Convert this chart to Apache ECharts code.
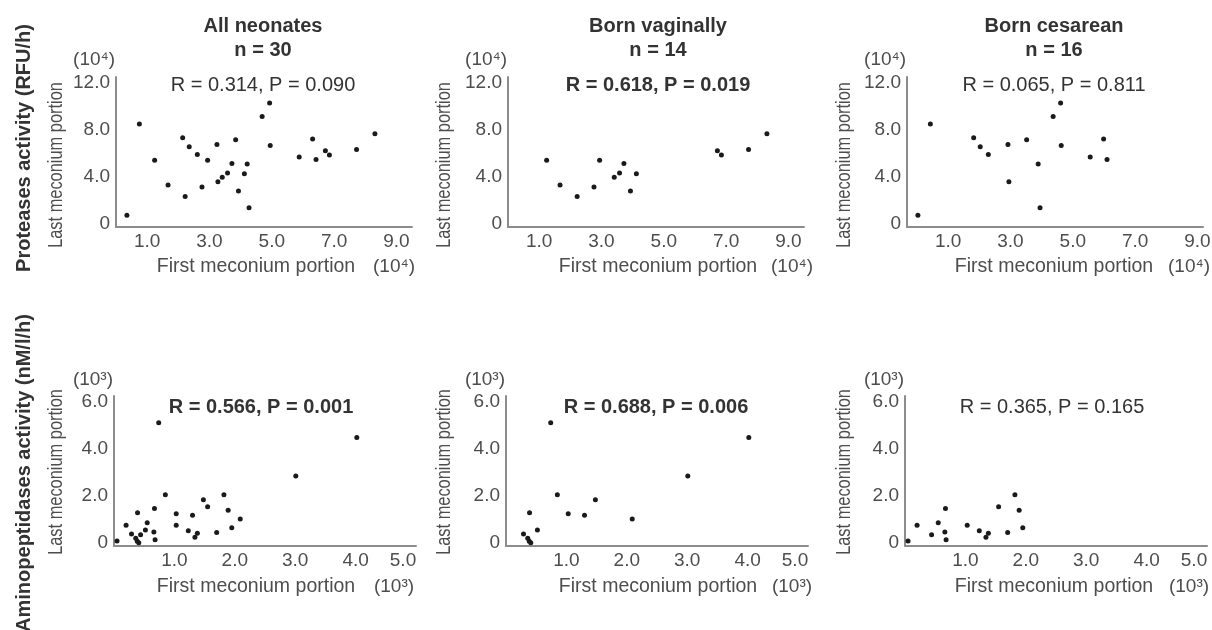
<!DOCTYPE html>
<html>
<head>
<meta charset="utf-8">
<title>Meconium protease and aminopeptidase activity</title>
<script src="https://cdn.jsdelivr.net/npm/echarts@6.0.0/dist/echarts.min.js"></script>
<style>
  html, body { margin: 0; padding: 0; background: #fff; }
  #chart { width: 1212px; height: 630px; }
</style>
</head>
<body>
<div id="chart"></div>
<script>
// proteases activity, first vs last meconium portion (x10^4 RFU/h)
const protVaginal = [
  [1.24, 5.40], [1.67, 3.28], [2.22, 2.31], [2.76, 3.11], [2.94, 5.40],
  [3.41, 3.94], [3.58, 4.31], [3.72, 5.11], [3.93, 2.77], [4.12, 4.25],
  [6.72, 6.20], [6.85, 5.85], [7.72, 6.31], [8.31, 7.65]
]
const protCesarean = [
  [0.35, 0.70], [0.75, 8.50], [2.14, 7.31], [2.35, 6.54], [2.61, 5.88],
  [3.24, 6.74], [3.27, 3.57], [3.84, 7.14], [4.21, 5.08], [4.27, 1.34],
  [4.69, 9.14], [4.93, 10.28], [4.95, 6.65], [5.88, 5.68], [6.31, 7.20],
  [6.42, 5.45]
]
// aminopeptidases activity (x10^3 nM/l/h)
const aminoVaginal = [
  [0.74, 5.11], [0.29, 0.37], [0.36, 0.19], [0.385, 0.06], [0.41, 0.0],
  [0.39, 1.28], [0.52, 0.54], [0.85, 2.04], [1.03, 1.23], [1.30, 1.17],
  [1.48, 1.83], [2.09, 1.01], [3.01, 2.84], [4.02, 4.48]
]
const aminoCesarean = [
  [0.05, 0.07], [0.20, 0.74], [0.44, 0.34], [0.55, 0.85], [0.67, 1.46],
  [0.66, 0.46], [0.68, 0.13], [1.03, 0.74], [1.23, 0.51], [1.34, 0.23],
  [1.38, 0.40], [1.55, 1.53], [1.70, 0.43], [1.82, 2.04], [1.89, 1.38],
  [1.95, 0.64]
]

const protTicksX = [1, 3, 5, 7, 9]
const protTicksY = [0, 4, 8, 12]
const aminoTicksX = [1, 2, 3, 4, 5]
const aminoTicksY = [0, 2, 4, 6]

const groupTitles = ['All neonates', 'Born vaginally', 'Born cesarean']
const groupSizes = ['n = 30', 'n = 14', 'n = 16']
const protStats = ['R = 0.314, P = 0.090', 'R = 0.618, P = 0.019', 'R = 0.065, P = 0.811']
const aminoStats = ['R = 0.566, P = 0.001', 'R = 0.688, P = 0.006', 'R = 0.365, P = 0.165']
const protBold = [false, true, false]
const aminoBold = [true, true, false]

const FONT = '"Liberation Sans", Arial, Helvetica, sans-serif'
const TEXT = '#333'
const LABEL = '#4d4d4d'
const AXIS = '#8c8c8c'

const protSets = [protVaginal.concat(protCesarean), protVaginal, protCesarean]
const aminoSets = [aminoVaginal.concat(aminoCesarean), aminoVaginal, aminoCesarean]

// panel placement (px)
const topLeft = [116, 508, 907]
const botLeft = [114, 506, 905]
const centers = [263, 658, 1054]
const xNameCenters = [[256, 394], [658, 792], [1054, 1189]]
const yNameX = [57, 445, 845]

const fmt = v => v === 0 ? '0' : v.toFixed(1)
// last label of the lower row sits pulled in from the axis end
const fmtLower = v => v === 5 ? '{e|' + v.toFixed(1) + '}' : fmt(v)

const grid = []
const xAxis = []
const yAxis = []
const series = []

function addPanel(left, top, width, xMax, yMin, yMax, ticksX, ticksY, data, xPad, xFmt) {
  const i = grid.length
  grid.push({ left: left, top: top, width: width, height: 150, outerBoundsMode: 'none' })
  xAxis.push({
    type: 'value', gridIndex: i, min: 0, max: xMax,
    axisLine: { onZero: false, lineStyle: { color: AXIS, width: 2 } },
    axisTick: { show: false },
    splitLine: { show: false },
    axisLabel: {
      customValues: ticksX, formatter: xFmt, margin: 5,
      color: LABEL, fontSize: 19, fontFamily: FONT,
      padding: xPad ? [0, 0, 0, xPad] : 0,
      rich: { e: { padding: [0, 26, 0, 0], color: LABEL, fontSize: 19, fontFamily: FONT } }
    }
  })
  yAxis.push({
    type: 'value', gridIndex: i, min: yMin, max: yMax,
    axisLine: { onZero: false, lineStyle: { color: AXIS, width: 2 } },
    axisTick: { show: false },
    splitLine: { show: false },
    axisLabel: {
      customValues: ticksY, formatter: fmt, margin: 6,
      color: LABEL, fontSize: 19, fontFamily: FONT
    }
  })
  series.push({
    type: 'scatter', xAxisIndex: i, yAxisIndex: i,
    data: data, symbolSize: 5, silent: true,
    itemStyle: { color: '#1a1a1a', opacity: 1 }
  })
}

for (let c = 0; c < 3; c++) {
  addPanel(topLeft[c], 77, 296, 9.5, -0.3, 12.5, protTicksX, protTicksY, protSets[c], c === 2 ? 20 : 0, fmt)
}
for (let c = 0; c < 3; c++) {
  addPanel(botLeft[c], 396, 302, 5.0, -0.14, 6.25, aminoTicksX, aminoTicksY, aminoSets[c], 0, fmtLower)
}

function txt(x, y, text, size, bold, color, align, rotation, scaleX) {
  return {
    type: 'text', x: x, y: y, rotation: rotation || 0, scaleX: scaleX || 1, silent: true,
    style: {
      text: text, x: 0, y: 0,
      fontSize: size, fontWeight: bold ? 'bold' : 'normal', fontFamily: FONT,
      fill: color || TEXT, textAlign: align || 'center', textVerticalAlign: 'middle'
    }
  }
}

const graphic = []
for (let c = 0; c < 3; c++) {
  graphic.push(txt(centers[c], 26, groupTitles[c], 20, true))
  graphic.push(txt(centers[c], 50, groupSizes[c], 20, true))
  graphic.push(txt(centers[c], 85, protStats[c], 20, protBold[c]))
  graphic.push(txt(centers[c] - 2, 407, aminoStats[c], 20, aminoBold[c]))

  // axis names and units
  graphic.push(txt(xNameCenters[c][0], 267, 'First meconium portion', 19.5, false, LABEL))
  graphic.push(txt(xNameCenters[c][1], 267, '(10\u2074)', 19, false, LABEL))
  graphic.push(txt(xNameCenters[c][0], 587, 'First meconium portion', 19.5, false, LABEL))
  graphic.push(txt(xNameCenters[c][1], 587, '(10\u00b3)', 19, false, LABEL))
  graphic.push(txt(topLeft[c] - 1, 60, '(10\u2074)', 19, false, LABEL, 'right'))
  graphic.push(txt(botLeft[c] - 1, 380, '(10\u00b3)', 19, false, LABEL, 'right'))
  graphic.push(txt(yNameX[c], 165, 'Last meconium portion', 19.5, false, LABEL, 'center', Math.PI / 2, 0.84))
  graphic.push(txt(yNameX[c], 472, 'Last meconium portion', 19.5, false, LABEL, 'center', Math.PI / 2, 0.84))
}
graphic.push(txt(24, 148, 'Proteases activity (RFU/h)', 20, true, TEXT, 'center', Math.PI / 2))
graphic.push(txt(24, 473, 'Aminopeptidases activity (nM/l/h)', 20, true, TEXT, 'center', Math.PI / 2))

const chart = echarts.init(document.getElementById('chart'), null, { renderer: 'canvas' })
chart.setOption({
  animation: false,
  backgroundColor: '#fff',
  grid: grid,
  xAxis: xAxis,
  yAxis: yAxis,
  series: series,
  graphic: graphic
})
</script>
</body>
</html>
